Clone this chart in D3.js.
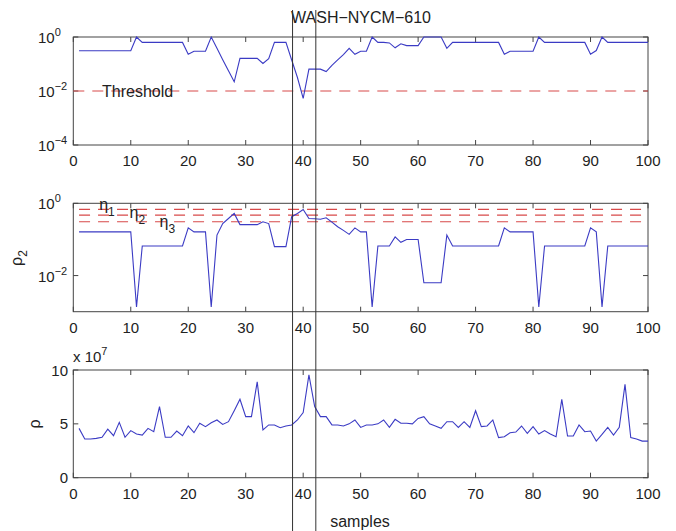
<!DOCTYPE html>
<html>
<head>
<meta charset="utf-8">
<script src="https://cdn.jsdelivr.net/npm/d3@7"></script>
<style>
  body { margin: 0; background: #fff; }
  svg text { font-family: "Liberation Sans", Arial, sans-serif; fill: #222; }
</style>
</head>
<body>
<svg id="chart" width="676" height="531"></svg>
<script>
// sample index runs 1..100 on every panel
const samples = d3.range(1, 101)
const xTicks = [0, 10, 20, 30, 40, 50, 60, 70, 80, 90, 100]

// top panel (log scale)
const rho1 = [
  0.309, 0.309, 0.309, 0.309, 0.309, 0.309, 0.309, 0.309, 0.309, 0.309,
  1, 0.631, 0.631, 0.631, 0.631, 0.631, 0.631, 0.631, 0.631, 0.229,
  0.295, 0.295, 0.295, 1, 0.38, 0.145, 0.0562, 0.0219, 0.162, 0.162,
  0.162, 0.162, 0.105, 0.158, 0.631, 0.631, 0.631, 0.141, 0.0316, 0.00537,
  0.0646, 0.0646, 0.0646, 0.0525, 0.0891, 0.141, 0.224, 0.38, 0.229, 0.295,
  0.295, 1, 0.631, 0.631, 0.603, 0.398, 0.562, 0.479, 0.479, 0.479,
  1, 1, 1, 1, 0.38, 0.631, 0.631, 0.631, 0.631, 0.631,
  0.631, 0.631, 0.631, 0.631, 0.229, 0.295, 0.295, 0.295, 0.295, 0.295,
  1, 0.631, 0.631, 0.631, 0.631, 0.631, 0.631, 0.631, 0.631, 0.229,
  0.316, 1, 0.631, 0.631, 0.631, 0.631, 0.631, 0.631, 0.631, 0.631
]
const threshold = 0.01
const rho1Exponents = [0, -2, -4]

// middle panel (log scale)
const rho2 = [
  0.162, 0.162, 0.162, 0.162, 0.162, 0.162, 0.162, 0.162, 0.162, 0.162,
  0.00135, 0.0661, 0.0661, 0.0661, 0.0661, 0.0661, 0.0661, 0.0661, 0.0661, 0.209,
  0.162, 0.162, 0.162, 0.00135, 0.132, 0.275, 0.38, 0.525, 0.257, 0.257,
  0.257, 0.257, 0.309, 0.275, 0.0631, 0.0631, 0.0631, 0.427, 0.525, 0.676,
  0.38, 0.372, 0.363, 0.398, 0.302, 0.224, 0.178, 0.138, 0.209, 0.162,
  0.162, 0.00135, 0.0661, 0.0661, 0.0661, 0.117, 0.0832, 0.1, 0.1, 0.1,
  0.00631, 0.00631, 0.00631, 0.00631, 0.132, 0.0661, 0.0661, 0.0661, 0.0661, 0.0661,
  0.0661, 0.0661, 0.0661, 0.0661, 0.209, 0.162, 0.162, 0.162, 0.162, 0.162,
  0.00135, 0.0661, 0.0661, 0.0661, 0.0661, 0.0661, 0.0661, 0.0661, 0.0661, 0.209,
  0.162, 0.00135, 0.0661, 0.0661, 0.0661, 0.0661, 0.0661, 0.0661, 0.0661, 0.0661
]
const etas = [0.68, 0.47, 0.31]
const etaLabelAt = [4.5, 9.8, 15]
const rho2Exponents = [0, -2]

// bottom panel, in units of 1e7
const rho = [
  4.58, 3.6, 3.6, 3.65, 3.75, 4.5, 3.9, 5.14, 3.75, 4.37,
  4.05, 3.96, 4.58, 4.27, 6.6, 3.75, 3.75, 4.33, 3.9, 4.8,
  4.18, 5.05, 4.74, 5.1, 5.36, 4.95, 5.2, 6.22, 7.28, 5.67,
  5.67, 8.9, 4.43, 4.9, 4.9, 4.64, 4.8, 4.9, 5.36, 6.04,
  9.54, 6.6, 5.67, 5.67, 4.9, 4.9, 4.8, 5.0, 5.36, 4.67,
  4.9, 4.9, 5.0, 5.36, 4.67, 5.42, 5.05, 5.05, 5.0, 5.5,
  5.67, 5.0, 4.8, 4.58, 5.2, 5.2, 4.67, 5.2, 4.67, 6.22,
  4.74, 4.8, 5.36, 3.72, 3.8, 4.18, 4.24, 4.8, 4.12, 4.74,
  4.05, 4.37, 4.05, 3.8, 7.28, 3.87, 3.87, 4.9, 4.27, 4.33,
  3.4, 4.02, 4.67, 3.96, 4.67, 8.67, 3.72, 3.6, 3.4, 3.4
]
const rhoTicks = [0, 5, 10]

// the two event markers drawn through all panels
const markers = [38.15, 42.2]

const title = 'WASH\u2212NYCM\u2212610'
const xLabel = 'samples'

const blue = '#3b3bc4', red = '#d84a4a', axisColor = '#444'
const left = 73.3, right = 648

const svg = d3.select('#chart')
const x = d3.scaleLinear().domain([0, 100]).range([left, right])

const box = (top, bottom, y, yTickValues) => {
  const g = svg.append('g')
  g.append('rect').attr('x', left).attr('y', top).attr('width', right - left).attr('height', bottom - top)
    .attr('fill', 'none').attr('stroke', axisColor)
  xTicks.forEach(t => {
    g.append('line').attr('x1', x(t)).attr('x2', x(t)).attr('y1', bottom).attr('y2', bottom - 5).attr('stroke', axisColor)
    g.append('line').attr('x1', x(t)).attr('x2', x(t)).attr('y1', top).attr('y2', top + 5).attr('stroke', axisColor)
    g.append('text').attr('x', x(t)).attr('y', bottom + 21).attr('text-anchor', 'middle')
      .attr('font-size', 15).text(t)
  })
  yTickValues.forEach(v => {
    g.append('line').attr('x1', left).attr('x2', left + 5).attr('y1', y(v)).attr('y2', y(v)).attr('stroke', axisColor)
    g.append('line').attr('x1', right).attr('x2', right - 5).attr('y1', y(v)).attr('y2', y(v)).attr('stroke', axisColor)
  })
  return g
}

const logLabels = (g, y, exps) => {
  exps.forEach(e => {
    const t = g.append('text').attr('x', 38).attr('y', y(Math.pow(10, e)) + 6).attr('font-size', 15)
    t.append('tspan').text('10')
    t.append('tspan').attr('dy', -7).attr('font-size', 11).text(e < 0 ? '\u2212' + (-e) : e)
  })
}

const line = (g, y, values) => {
  g.append('path').datum(values)
    .attr('fill', 'none').attr('stroke', blue).attr('stroke-width', 1.1)
    .attr('d', d3.line().x((d, i) => x(samples[i])).y(d => y(d)))
}

const hline = (g, y, v, x0) => {
  g.append('line').attr('x1', x(x0)).attr('x2', x(100)).attr('y1', y(v)).attr('y2', y(v))
    .attr('stroke', red).attr('stroke-width', 1.1).attr('stroke-dasharray', '11,8')
}

// panel 1
const y1 = d3.scaleLog().domain([1e-4, 1]).range([145, 37])
const g1 = box(37, 145, y1, rho1Exponents.map(e => Math.pow(10, e)))
logLabels(g1, y1, rho1Exponents)
hline(g1, y1, threshold, 0)
line(g1, y1, rho1)
g1.append('text').attr('x', x(5)).attr('y', y1(threshold) + 6).attr('font-size', 16).text('Threshold')

// panel 2
const y2 = d3.scaleLog().domain([1e-3, 1]).range([311.7, 203.3])
const g2 = box(203.3, 311.7, y2, rho2Exponents.map(e => Math.pow(10, e)))
logLabels(g2, y2, rho2Exponents)
etas.forEach(v => hline(g2, y2, v, 1))
line(g2, y2, rho2)
etas.forEach((v, i) => {
  const t = g2.append('text').attr('x', x(etaLabelAt[i])).attr('y', y2(v) + 1 + i * 2).attr('font-size', 16)
  t.append('tspan').text('\u03b7')
  t.append('tspan').attr('dy', 6).attr('font-size', 12).text(i + 1)
})
const l2 = g2.append('text').attr('transform', 'translate(22,258) rotate(-90)').attr('text-anchor', 'middle').attr('font-size', 16)
l2.append('tspan').text('\u03c1')
l2.append('tspan').attr('dy', 5).attr('font-size', 12).text('2')

// panel 3
const y3 = d3.scaleLinear().domain([0, 10]).range([477.7, 370])
const g3 = box(370, 477.7, y3, rhoTicks)
rhoTicks.forEach(v => {
  g3.append('text').attr('x', 68).attr('y', y3(v) + 5.5).attr('text-anchor', 'end').attr('font-size', 15).text(v)
})
line(g3, y3, rho)
const ex = g3.append('text').attr('x', 73).attr('y', 362).attr('font-size', 15)
ex.append('tspan').text('x 10')
ex.append('tspan').attr('dy', -7).attr('font-size', 11).text('7')
g3.append('text').attr('transform', 'translate(40,424) rotate(-90)').attr('text-anchor', 'middle')
  .attr('font-size', 16).text('\u03c1')
svg.append('text').attr('x', 360).attr('y', 527).attr('text-anchor', 'middle').attr('font-size', 16).text(xLabel)

// title and event markers
svg.append('text').attr('x', 361).attr('y', 23).attr('text-anchor', 'middle').attr('font-size', 16).text(title)
markers.forEach(m => {
  svg.append('line').attr('x1', x(m)).attr('x2', x(m)).attr('y1', 10).attr('y2', 531)
    .attr('stroke', '#333').attr('stroke-width', 1)
})
</script>
</body>
</html>
